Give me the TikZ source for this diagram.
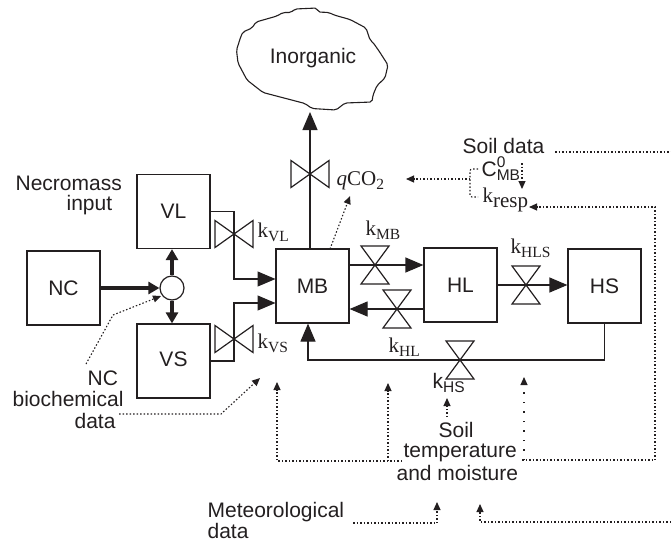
\documentclass[tikz,border=0pt]{standalone}
\usepackage{fontspec}
\setmainfont{Liberation Sans}
\newfontfamily\tms{Liberation Serif}
\usetikzlibrary{arrows.meta}
\definecolor{ink}{HTML}{231F20}
\newcommand{\subt}[1]{\raisebox{-4pt}{\fontsize{15.5}{15.5}\selectfont #1}}
\tikzset{
  >={Triangle[length=18pt,width=15pt]},
  box/.style={draw,minimum width=73pt,minimum height=74pt,inner sep=0pt},
  lab/.style={inner sep=0pt,anchor=base west},
  conn/.style={->,line width=1.2pt},
  bold/.style={line width=4pt,-{Triangle[length=11pt,width=12pt]}},
  info/.style={line width=1.1pt,dash pattern=on 1.5pt off 2pt,-{Triangle[length=8pt,width=7pt]}},
  infoplain/.style={line width=1.1pt,dash pattern=on 1.5pt off 2pt},
  hvalve/.pic={\draw (-19,-13.5) -- (19,13.5) -- (19,-13.5) -- (-19,13.5) -- cycle;},
  vvalve/.pic={\draw (-14,-19) -- (14,19) -- (-14,19) -- (14,-19) -- cycle;}
}
\begin{document}
\begin{tikzpicture}[x=1pt,y=-1pt,color=ink,line width=1.2pt,font=\fontsize{21}{23}\selectfont]
  \useasboundingbox (0,0) rectangle (671,542);
  % stores
  \node[box] (NC) at (63.5,288) {\raisebox{-4pt}{NC}};
  \node[box] (VL) at (173.5,211.5) {VL};
  \node[box] (VS) at (173.5,361) {\raisebox{3pt}{VS}};
  \node[box] (MB) at (312.5,286) {MB};
  \node[box] (HL) at (460.5,285) {HL};
  \node[box] (HS) at (604.5,286) {HS};
  \node[draw,circle,minimum size=24pt,inner sep=0pt] (mix) at (172,288) {};
  \node (inorg) at (313,58) {Inorganic};
  % inorganic pool outline
  \draw[line width=1.1pt,rounded corners=2pt] (295,9) -- (317,8) -- (318,12) -- (329,12.5) -- (334,15) -- (350,19.5)
    -- (366,28) -- (370,40) -- (373,42.5) -- (379,51) -- (388,65) -- (385,78) -- (377,85.5) -- (373,95)
    -- (372,102) -- (345,103) -- (336,110) -- (312,108.5) -- (305,103.5) -- (263,92.5) -- (247,80)
    -- (238,63) -- (236.5,50) -- (241,36) -- (243,32) -- (252,28) -- (256,22) -- (277,16) -- (283,12.5) -- (291,12.5) -- cycle;
  % valves
  \coordinate (vVL) at (234,234);
  \coordinate (vVS) at (234,339);
  \coordinate (vCO) at (310,174);
  \coordinate (vMB) at (375,265);
  \coordinate (vHL) at (397,309);
  \coordinate (vHLS) at (526,285);
  \coordinate (vHS) at (460,360);
  \pic at (vVL) {hvalve};
  \pic at (vVS) {hvalve};
  \pic at (vCO) {hvalve};
  \pic at (vMB) {vvalve};
  \pic at (vHL) {vvalve};
  \pic at (vHLS) {vvalve};
  \pic at (vHS) {vvalve};
  % carbon flows
  \coordinate (inVL) at (275.5,279);
  \coordinate (inVS) at (275.5,303);
  \coordinate (inorgb) at (310,112);
  \coordinate (back) at (308,360);
  \draw[bold] (NC.east) -- (mix.west);
  \draw[bold] (mix.north) -- (mix.north |- VL.south);
  \draw[bold] (mix.south) -- (mix.south |- VS.north);
  \draw[conn] (VL.east) -| (vVL) |- (inVL);
  \draw[conn] (VS.east) -| (vVS) |- (inVS);
  \draw[conn] (vCO |- MB.north) -- (inorgb);
  \draw[conn] (MB.east |- vMB) -- (HL.west |- vMB);
  \draw[conn] (HL.west |- vHL) -- (MB.east |- vHL);
  \draw[conn] (HL.east |- vHLS) -- (HS.west |- vHLS);
  \draw[conn] (HS.south) |- (back) -- (back |- MB.south);
  % labels
  \node[lab] (necro) at (15,190) {Necromass};
  \node[lab] (necroin) at (66,210) {input};
  \node[lab] (ncbio) at (87,385) {NC};
  \node[lab] (biochem) at (12,406) {biochemical};
  \node[lab] (ncdata) at (74,428) {data};
  \node[lab] (kVL) at (257,237) {\tms k\subt{VL}};
  \node[lab] (kVS) at (257,348) {\tms k\subt{VS}};
  \node[lab] (kMB) at (365,235) {\tms k\subt{MB}};
  \node[lab] (kHLS) at (510,253) {\tms k\subt{HLS}};
  \node[lab] (kHL) at (388,352) {\tms k\subt{HL}};
  \node[lab] (kHS) at (432,388) {k\subt{HS}};
  \node[lab] (qco) at (336,185) {\tms\textit{q}CO\subt{2}};
  \node[lab] (soil) at (462,153) {Soil data};
  \node[lab] (czero) at (481,176) {C\rlap{\raisebox{9pt}{\fontsize{15.5}{15.5}\selectfont 0}}\subt{MB}};
  \node[lab] (kresp) at (482,202) {\tms k\raisebox{-5pt}{resp}};
  \node[lab] (soila) at (438,437) {Soil};
  \node[lab] (soilb) at (403,457) {temperature};
  \node[lab] (soilc) at (396,480) {and moisture};
  \node[lab] (meta) at (207,517) {Meteorological};
  \node[lab] (metb) at (207,538) {data};
  % data flows
  \coordinate (a1) at (86,364);
  \coordinate (a2) at (113,315);
  \coordinate (a3) at (161,296);
  \draw[info] (a1) -- (a2) -- (a3);
  \coordinate (b1) at (119,414);
  \coordinate (b2) at (221,414);
  \coordinate (b3) at (260,378);
  \draw[info] (b1) -- (b2) -- (b3);
  \coordinate (c1) at (402,461);
  \coordinate (c2) at (277,461);
  \coordinate (c3) at (277,382);
  \coordinate (c4) at (388,461);
  \coordinate (c5) at (388,383);
  \draw[info] (c1) -- (c2) -- (c3);
  \draw[info] (c4) -- (c5);
  \coordinate (d1) at (447,417);
  \coordinate (d2) at (447,398);
  \draw[info] (d1) -- (d2);
  \coordinate (e1) at (524,460);
  \coordinate (e2) at (524,377);
  \draw[info,dash pattern=on 1.5pt off 8pt] (e1) -- (e2);
  \coordinate (f1) at (522,460);
  \coordinate (f2) at (655,460);
  \coordinate (f3) at (655,207);
  \coordinate (f4) at (529,207);
  \draw[info] (f1) -- (f2) -- (f3) -- (f4);
  \coordinate (g1) at (353,523);
  \coordinate (g2) at (437,523);
  \coordinate (g3) at (437,502);
  \draw[info] (g1) -- (g2) -- (g3);
  \coordinate (h1) at (671,522);
  \coordinate (h2) at (480,522);
  \coordinate (h3) at (480,504);
  \draw[info] (h1) -- (h2) -- (h3);
  \coordinate (s1) at (555,152);
  \coordinate (s2) at (671,152);
  \draw[infoplain] (s1) -- (s2);
  \coordinate (s3) at (522,163);
  \coordinate (s4) at (522,189);
  \draw[info] (s3) -- (s4);
  \coordinate (q1) at (470,179);
  \coordinate (q2) at (406,179);
  \draw[info] (q1) -- (q2);
  \coordinate (q3) at (478,169);
  \coordinate (q4) at (470,169);
  \coordinate (q5) at (470,197);
  \coordinate (q6) at (478,197);
  \draw[infoplain,rounded corners=2pt] (q3) -- (q4) -- (q5) -- (q6);
  \coordinate (m1) at (330,249);
  \coordinate (m2) at (350,196);
  \draw[info] (m1) -- (m2);
\end{tikzpicture}
\end{document}
